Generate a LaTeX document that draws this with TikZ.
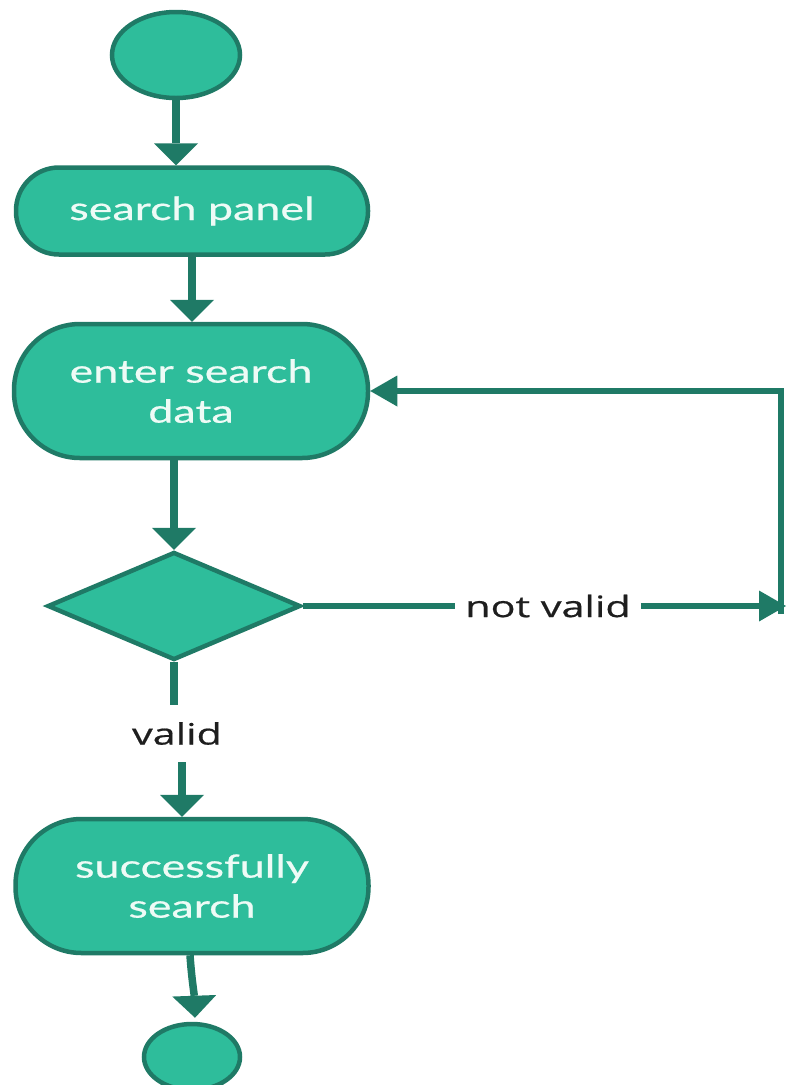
\documentclass[tikz,border=0pt]{standalone}
\usepackage{fontspec}
\newfontfamily\nodefont[FakeStretch=1.4,FakeBold=0.6]{Lato}
\newfontfamily\lblfont[FakeStretch=1.4,FakeBold=0.6]{Open Sans}
\usetikzlibrary{shapes.geometric,arrows.meta}
\definecolor{tfill}{HTML}{2EBD9B}
\definecolor{tdark}{HTML}{1F7A66}
\definecolor{ttext}{HTML}{EEFBF6}
\definecolor{lbl}{HTML}{1E1E1E}
\tikzset{
  shp/.style={draw=tdark, fill=tfill, line width=4.5pt, inner sep=0pt},
  stadium/.style={shp, rectangle, text=ttext, align=center,
    font=\nodefont\fontsize{32}{40}\selectfont},
  startend/.style={shp, ellipse},
  decision/.style={shp, diamond, minimum width=253pt, minimum height=108pt},
  lbltext/.style={text=lbl, inner sep=0pt, font=\lblfont\fontsize{29.5}{34}\selectfont},
  varrow/.style={draw=tdark, line width=7.5pt,
    -{Triangle[width=44pt,length=22pt,line width=0pt]}},
  vline/.style={draw=tdark, line width=7.5pt},
  harrow/.style={draw=tdark, line width=5.5pt,
    -{Triangle[width=31pt,length=27pt,line width=0pt]}},
  hline/.style={draw=tdark, line width=5.5pt},
}
\begin{document}
\begin{tikzpicture}[x=1pt,y=-1pt]
\useasboundingbox (0,0) rectangle (787,1085);
% nodes
\node[startend, minimum width=128pt, minimum height=86pt] (start) at (176,55) {};
\node[stadium, minimum width=352pt, minimum height=87pt, rounded corners=43pt] (panel) at (192,211) {search panel};
\node[stadium, minimum width=354pt, minimum height=134pt, rounded corners=66pt] (enter) at (191,391) {enter search\\data};
\node[decision] (dec) at (174,606) {};
\node[lbltext, minimum height=57pt] (valid) at (177,733.5) {valid};
\node[lbltext, inner xsep=10pt, minimum height=30pt] (nv) at (548,606) {not valid};
\node[stadium, minimum width=353pt, minimum height=134pt, rounded corners=66pt] (succ) at (192,886) {successfully\\search};
\node[startend, minimum width=96pt, minimum height=66pt] (end) at (192,1057) {};
\coordinate (c1) at (786,606);
\coordinate (c2) at (781,614);
% connectors
\draw[varrow] (start.south) -- (start.south |- panel.north);
\draw[varrow] (panel.south) -- (panel.south |- enter.north);
\draw[varrow] (dec.north |- enter.south) -- (dec.north);
\draw[vline] (dec.south) -- (dec.south |- valid.north);
\draw[varrow] ([xshift=5pt]valid.south) -- ([xshift=5pt]valid.south |- succ.north);
\draw[varrow] ([xshift=-2pt]succ.south) to[out=-86,in=92] ([xshift=3pt,yshift=4pt]end.north);
\draw[hline] (dec.east) -- (nv.west);
\draw[harrow] (nv.east) -- (c1);
\draw[harrow] (c2) |- (enter.east);
\end{tikzpicture}
\end{document}
